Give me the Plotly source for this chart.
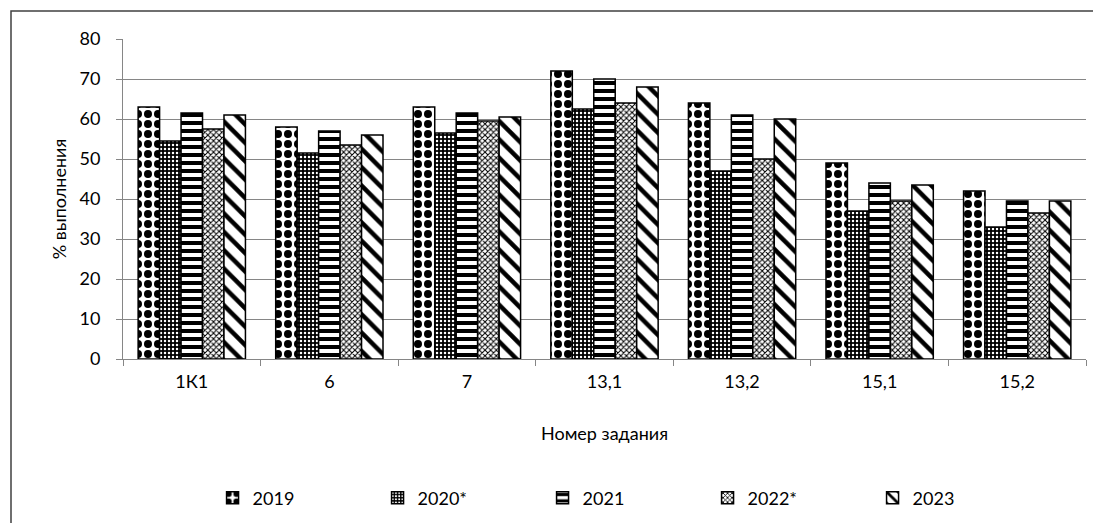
import plotly.graph_objects as go

categories = ["1К1", "6", "7", "13,1", "13,2", "15,1", "15,2"]
series_names = ["2019", "2020*", "2021", "2022*", "2023"]
v2019 = [63, 58, 63, 72, 64, 49, 42]
v2020 = [54.5, 51.5, 56.5, 62.5, 47, 37, 33]
v2021 = [61.5, 57, 61.5, 70, 61, 44, 39.5]
v2022 = [57.5, 53.5, 59.5, 64, 50, 39.5, 36.5]
v2023 = [61, 56, 60.5, 68, 60, 43.5, 39.5]
yticks = [0, 10, 20, 30, 40, 50, 60, 70, 80]

values = [v2019, v2020, v2021, v2022, v2023]
patterns = [
    dict(shape=".", size=10, solidity=0.5, fgcolor="black", bgcolor="white", fillmode="replace"),
    dict(shape=".", size=4, solidity=0.3, fgcolor="white", bgcolor="black", fillmode="replace"),
    dict(shape="-", size=8, solidity=0.5, fgcolor="black", bgcolor="white", fillmode="replace"),
    dict(shape="x", size=4, solidity=0.45, fgcolor="black", bgcolor="white", fillmode="replace"),
    dict(shape="\\", size=13, solidity=0.35, fgcolor="black", bgcolor="white", fillmode="replace"),
]

FONT = "Lato"
FS = 18
# the page body adds an 8px offset; margins compensate so the plot area sits at
# screen x 123..1086, y 39..359
PLOT_L, PLOT_R, PLOT_T, PLOT_B = 123, 1086, 39, 359
OFF = 8
W, H = 1101, 523
fig = go.Figure()
for name, vals, pat in zip(series_names, values, patterns):
    fig.add_trace(go.Bar(
        x=categories, y=vals, name=name,
        marker=dict(color="white", pattern=pat, line=dict(color="black", width=1.5)),
    ))

pw = PLOT_R - PLOT_L
ph = PLOT_B - PLOT_T
fig.update_layout(
    width=W, height=H,
    margin=dict(l=PLOT_L - OFF, r=W + OFF - PLOT_R, t=PLOT_T - OFF, b=H + OFF - PLOT_B),
    paper_bgcolor="white", plot_bgcolor="white",
    barmode="group", bargap=0.22, bargroupgap=0,
    font=dict(family=FONT, size=FS, color="black"),
    showlegend=True,
    legend=dict(orientation="h", x=0.093, xanchor="left", y=(PLOT_B - 498) / ph, yanchor="middle",
                entrywidth=120, font=dict(family=FONT, size=FS), traceorder="normal"),
    xaxis=dict(
        type="category", tickson="boundaries", ticks="outside", ticklen=6,
        tickcolor="#868686", showline=True, linecolor="#868686", linewidth=1,
        showgrid=False, tickfont=dict(family=FONT, size=FS), automargin=False,
        ticklabelstandoff=6,
        title=dict(text="Номер задания", standoff=36, font=dict(family=FONT, size=FS)),
    ),
    yaxis=dict(
        range=[0, 80], tickvals=yticks, ticks="outside", ticklen=6, tickcolor="#868686",
        showline=True, linecolor="#868686", linewidth=1,
        showgrid=True, gridcolor="#868686", gridwidth=1, zeroline=False,
        tickfont=dict(family=FONT, size=FS), automargin=False, ticklabelstandoff=12,
        title=dict(text="% выполнения", standoff=8, font=dict(family=FONT, size=FS)),
    ),
)

fig.add_shape(type="rect", xref="paper", yref="paper",
              x0=(11 - PLOT_L) / pw, x1=1.2, y0=-0.8, y1=(PLOT_B - 11) / ph,
              line=dict(color="#404040", width=1.5), fillcolor="rgba(0,0,0,0)", layer="below")

fig.write_html("out.html")
